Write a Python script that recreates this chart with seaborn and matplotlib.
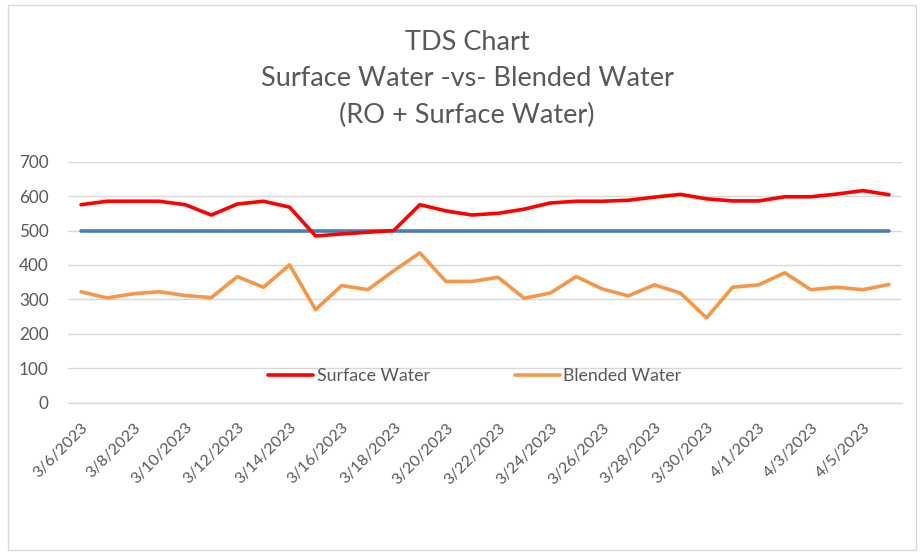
import matplotlib
matplotlib.use("Agg")
import matplotlib.pyplot as plt
import seaborn as sns
import pandas as pd
import numpy as np
from matplotlib.patches import Rectangle

# ---- data ----
dates = [f"3/{d}/2023" for d in range(6, 32)] + [f"4/{d}/2023" for d in range(1, 7)]
surface_water = [575, 585, 585, 585, 575, 545, 577, 585, 568, 484, 490, 495, 500, 575, 557, 545,
                 550, 562, 580, 585, 585, 588, 597, 605, 592, 586, 586, 598, 598, 606, 616, 604]
blended_water = [322, 304, 316, 322, 311, 305, 366, 335, 400, 270, 340, 328, 383, 435, 352, 352,
                 364, 303, 318, 366, 330, 310, 342, 318, 246, 335, 342, 377, 328, 335, 328, 343]
limit_line = [500] * len(dates)
y_ticks = [0, 100, 200, 300, 400, 500, 600, 700]
title_lines = ["TDS Chart", "Surface Water -vs- Blended Water", "(RO + Surface Water)"]

df = pd.DataFrame({"Date": dates, "Surface Water": surface_water,
                   "Blended Water": blended_water, "Limit": limit_line})

sns.set_theme(style="white")
plt.rcParams["font.family"] = ["Lato", "DejaVu Sans"]
TXT = "#595959"
GRID = "#d9d9d9"

fig = plt.figure(figsize=(9.21, 5.53), dpi=100)
W, H = 921, 553
ax = fig.add_axes([68 / W, 1 - 402.5 / H, (902 - 68) / W, (402.5 - 161.7) / H])

sns.lineplot(data=df, x="Date", y="Surface Water", ax=ax, color="#ff0000", lw=2.6,
             label="Surface Water", sort=False, zorder=3)
sns.lineplot(data=df, x="Date", y="Limit", ax=ax, color="#4a7ebb", lw=2.6,
             legend=False, sort=False, zorder=2)
sns.lineplot(data=df, x="Date", y="Blended Water", ax=ax, color="#f79646", lw=2.6,
             label="Blended Water", sort=False, zorder=3)

n = len(dates)
ax.set_xlim(-0.5, n - 0.5)
ax.set_ylim(0, 700)
ax.set_yticks(y_ticks)
ax.set_yticklabels([str(v) for v in y_ticks], color=TXT, fontsize=12.3)
ax.tick_params(axis="y", length=0, pad=14)

major = np.arange(-0.5, n, 2)
ax.set_xticks(major)
ax.set_xticklabels([])
ax.tick_params(axis="x", which="major", length=5, color=GRID, width=1, direction="out")
minor = np.arange(0, n, 2)
ax.set_xticks(minor, minor=True)
ax.set_xticklabels([dates[i] for i in minor], minor=True, rotation=45, ha="right",
                   va="top", rotation_mode="anchor", color=TXT, fontsize=11.5)
ax.tick_params(axis="x", which="minor", length=0, pad=13)

ax.set_xlabel("")
ax.set_ylabel("")
ax.grid(axis="y", color=GRID, lw=1)
ax.grid(axis="x", visible=False)
for s in ["top", "right", "left"]:
    ax.spines[s].set_visible(False)
ax.spines["bottom"].set_color(GRID)
ax.spines["bottom"].set_linewidth(1)
ax.set_axisbelow(True)

leg = ax.legend(loc="center", bbox_to_anchor=(0.488, 0.11), ncol=2, frameon=False,
                handlelength=2.5, handletextpad=0.22, columnspacing=4.8, fontsize=12.8)
for t in leg.get_texts():
    t.set_color(TXT)

fig.text(467 / W, 1 - 79 / H, "\n".join(title_lines), ha="center", va="center",
         fontsize=19.5, color=TXT, linespacing=1.58)

fig.patches.append(Rectangle((8 / W, 1 - 550 / H), (916 - 8) / W, (550 - 5) / H,
                             transform=fig.transFigure, fill=False, edgecolor=GRID, lw=1))

fig.savefig("out.png", dpi=100)
